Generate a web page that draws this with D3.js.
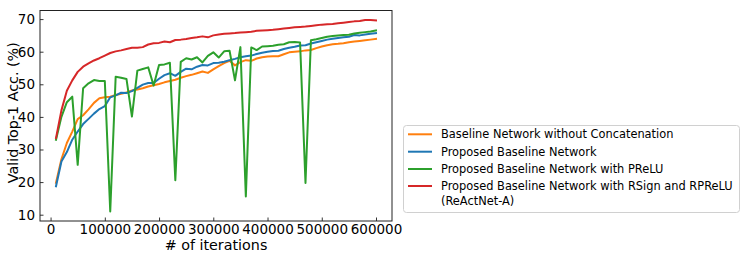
<!doctype html>
<html lang="en">
<head>
  <meta charset="utf-8">
  <title>Valid Top-1 Accuracy vs iterations</title>
<style>
body { margin: 0; background: #fff; }
text { font-family: "DejaVu Sans", sans-serif; fill: #000; }
</style>
<script src="https://d3js.org/d3.v7.min.js"></script>
</head>
<body>
<div class="chart"></div>
<script>

  // iterations (x values)
  let iterations = [10000, 20000, 30000, 40000, 50000, 60000, 70000, 80000, 90000, 100000,
    110000, 120000, 130000, 140000, 150000, 160000, 170000, 180000, 190000, 200000,
    210000, 220000, 230000, 240000, 250000, 260000, 270000, 280000, 290000, 300000,
    310000, 320000, 330000, 340000, 350000, 360000, 370000, 380000, 390000, 400000,
    410000, 420000, 430000, 440000, 450000, 460000, 470000, 480000, 490000, 500000,
    510000, 520000, 530000, 540000, 550000, 560000, 570000, 580000, 590000, 600000];

  let baseline_no_concat = [19.8, 27.0, 32.0, 35.5, 39.3, 40.5, 42.3, 44.3, 45.7, 46.0,
    46.2, 46.7, 47.1, 47.5, 48.1, 48.4, 48.8, 49.3, 49.7, 50.1,
    50.6, 51.0, 51.4, 52.0, 52.5, 52.9, 53.4, 53.9, 53.5, 54.6,
    55.6, 56.5, 57.2, 55.8, 56.8, 57.4, 57.2, 57.9, 58.3, 58.5,
    58.6, 58.6, 59.2, 59.8, 60.0, 60.1, 60.4, 60.5, 61.1, 61.6,
    62.0, 62.3, 62.4, 62.6, 62.9, 63.1, 63.3, 63.5, 63.7, 63.9];

  let proposed_baseline = [18.7, 26.3, 29.2, 33.0, 35.5, 37.8, 39.4, 41.0, 42.4, 43.3,
    46.0, 46.6, 47.4, 47.3, 47.9, 48.9, 49.9, 50.4, 50.4, 51.7,
    52.8, 53.4, 52.6, 53.8, 54.8, 54.6, 55.4, 55.9, 55.8, 56.5,
    56.6, 56.9, 57.4, 57.8, 58.3, 58.6, 58.8, 59.3, 59.7, 60.0,
    60.2, 60.3, 60.8, 61.2, 61.5, 61.9, 62.0, 62.5, 62.9, 63.3,
    63.7, 64.0, 64.2, 64.4, 64.6, 65.1, 65.0, 65.3, 65.5, 65.7];

  let proposed_prelu = [33.0, 40.0, 44.5, 46.2, 25.3, 48.8, 50.3, 51.3, 51.0, 51.0,
    11.0, 52.3, 52.0, 51.6, 40.1, 54.2, 54.7, 55.2, 49.6, 55.9,
    56.1, 56.6, 20.6, 56.9, 58.0, 57.6, 58.3, 56.7, 58.7, 59.8,
    58.2, 60.1, 60.3, 51.2, 61.4, 15.6, 61.3, 60.5, 61.6, 61.7,
    61.8, 62.1, 62.3, 62.9, 63.0, 62.8, 19.7, 63.5, 63.8, 64.2,
    64.6, 64.8, 65.0, 65.1, 65.2, 65.6, 65.8, 66.0, 66.2, 66.5];

  let reactnet_a = [33.5, 42.0, 48.0, 51.2, 53.8, 55.4, 56.4, 57.3, 58.0, 58.8,
    59.6, 60.1, 60.4, 60.8, 61.2, 61.2, 61.4, 62.2, 62.6, 62.7,
    63.1, 62.9, 63.6, 63.7, 63.9, 64.2, 64.4, 64.7, 64.4, 65.0,
    65.3, 65.5, 65.6, 65.7, 65.9, 66.0, 66.1, 66.4, 66.5, 66.6,
    66.7, 66.9, 67.1, 67.3, 67.5, 67.6, 67.7, 67.9, 68.1, 68.3,
    68.4, 68.5, 68.7, 68.9, 69.1, 69.3, 69.4, 69.7, 69.7, 69.6];

  let series_names = [
    'Baseline Network without Concatenation',
    'Proposed Baseline Network',
    'Proposed Baseline Network with PReLU',
    'Proposed Baseline Network with RSign and RPReLU\n(ReActNet-A)'
  ];
  let series_colors = ['#ff7f0e', '#1f77b4', '#2ca02c', '#d62728'];
  let series_values = [baseline_no_concat, proposed_baseline, proposed_prelu, reactnet_a];

  let x_ticks = [0, 100000, 200000, 300000, 400000, 500000, 600000];
  let y_ticks = [10, 20, 30, 40, 50, 60, 70];

  let w = 747, h = 253;
  let plot = {left: 40, right: 392, top: 10.5, bottom: 221};

  let svg = d3.select('.chart').append('svg')
    .attr('width', w)
    .attr('height', h);

  // matplotlib style 5% margins
  let x_ext = d3.extent(iterations);
  let x_pad = (x_ext[1] - x_ext[0]) * 0.05;
  let all_vals = series_values.flat();
  let y_ext = d3.extent(all_vals);
  let y_pad = (y_ext[1] - y_ext[0]) * 0.05;

  let x = d3.scaleLinear()
    .domain([x_ext[0] - x_pad, x_ext[1] + x_pad])
    .range([plot.left, plot.right]);
  let y = d3.scaleLinear()
    .domain([y_ext[0] - y_pad, y_ext[1] + y_pad])
    .range([plot.bottom, plot.top]);

  // axes, ticks pointing inward
  let x_axis = d3.axisBottom(x).tickValues(x_ticks).tickFormat(d3.format('d'))
    .tickSizeInner(-3.5).tickSizeOuter(0).tickPadding(3.5);
  let y_axis = d3.axisLeft(y).tickValues(y_ticks).tickFormat(d3.format('d'))
    .tickSizeInner(-3.5).tickSizeOuter(0).tickPadding(5);

  let gx = svg.append('g')
    .attr('transform', 'translate(0,' + plot.bottom + ')')
    .call(x_axis);
  let gy = svg.append('g')
    .attr('transform', 'translate(' + plot.left + ',0)')
    .call(y_axis);

  [gx, gy].forEach(function(g) {
    g.select('.domain').remove();
    g.selectAll('.tick line').attr('stroke', '#000').attr('stroke-width', 0.8);
    g.selectAll('.tick text')
      .attr('font-family', '"DejaVu Sans", sans-serif')
      .attr('font-size', 13.5)
      .attr('fill', '#000');
  });

  // lines
  let line = d3.line()
    .x(function(d, i) { return x(iterations[i]); })
    .y(function(d) { return y(d); });

  let lines = svg.append('g');
  series_values.forEach(function(vals, i) {
    lines.append('path')
      .datum(vals)
      .attr('d', line)
      .attr('fill', 'none')
      .attr('stroke', series_colors[i])
      .attr('stroke-width', 2)
      .attr('stroke-linejoin', 'round')
      .attr('stroke-linecap', 'square');
  });

  // frame
  svg.append('rect')
    .attr('x', plot.left)
    .attr('y', plot.top)
    .attr('width', plot.right - plot.left)
    .attr('height', plot.bottom - plot.top)
    .attr('fill', 'none')
    .attr('stroke', '#222')
    .attr('stroke-width', 1);

  // axis labels
  svg.append('text')
    .attr('x', (plot.left + plot.right) / 2)
    .attr('y', 250)
    .attr('text-anchor', 'middle')
    .attr('font-size', 14.3)
    .text('# of iterations');

  svg.append('text')
    .attr('transform', 'translate(18,' + ((plot.top + plot.bottom) / 2 - 3) + ') rotate(-90)')
    .attr('text-anchor', 'middle')
    .attr('font-size', 14.3)
    .text('Valid Top-1 Acc. (%)');

  // legend
  let legend = svg.append('g');
  legend.append('rect')
    .attr('x', 403.5)
    .attr('y', 125.5)
    .attr('width', 336)
    .attr('height', 87)
    .attr('rx', 3)
    .attr('fill', '#fff')
    .attr('stroke', '#d0d0d0')
    .attr('stroke-width', 1);

  let row_y = [134.3, 151.7, 169, 186];
  series_names.forEach(function(name, i) {
    legend.append('line')
      .attr('x1', 408)
      .attr('x2', 432)
      .attr('y1', row_y[i])
      .attr('y2', row_y[i])
      .attr('stroke', series_colors[i])
      .attr('stroke-width', 2);
    let t = legend.append('text')
      .attr('x', 441)
      .attr('y', row_y[i])
      .attr('font-size', 11.4);
    name.split('\n').forEach(function(part, j) {
      t.append('tspan')
        .attr('x', 441)
        .attr('dy', j === 0 ? '0.35em' : '14.7')
        .text(part);
    });
  });

</script>
</body>
</html>
